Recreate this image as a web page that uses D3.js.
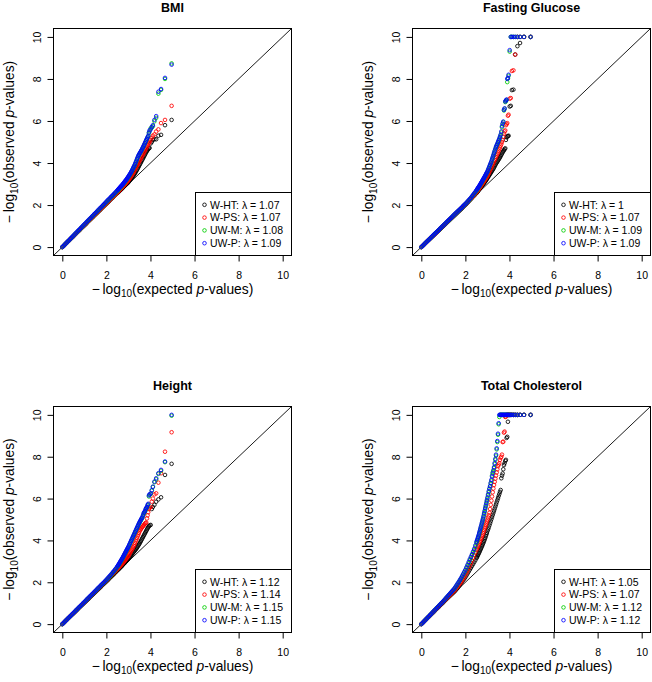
<!DOCTYPE html>
<html><head><meta charset="utf-8">
<script src="https://cdn.jsdelivr.net/npm/d3@7/dist/d3.min.js"></script>
<style>body{margin:0;background:#fff}svg{display:block}text{white-space:pre}</style>
</head><body>
<svg id="chart" width="652" height="682"></svg>
<script>
// ---------- data ----------
const panelTitles = ["BMI", "Fasting Glucose", "Height", "Total Cholesterol"];
const seriesNames = ["W-HT", "W-PS", "UW-M", "UW-P"];
const seriesColors = ["#000000", "#FF0000", "#00CD00", "#0000FF"];
const lambdaBMI = ["1.07", "1.07", "1.08", "1.09"];
const lambdaFG = ["1", "1.07", "1.09", "1.09"];
const lambdaHeight = ["1.12", "1.14", "1.15", "1.15"];
const lambdaTC = ["1.05", "1.07", "1.12", "1.12"];
const axisTicks = [0, 2, 4, 6, 8, 10];

// expected -log10(p) (shared by all series)
const expected = [0,0.05,0.1,0.15,0.2,0.25,0.3,0.35,0.4,0.45,0.5,0.55,0.6,0.65,0.7,0.75,0.8,0.85,0.9,0.95,1,1.05,1.1,1.15,1.2,1.25,1.3,1.35,1.4,1.45,1.5,
1.55,1.6,1.65,1.7,1.75,1.8,1.85,1.9,1.95,2,2.05,2.1,2.15,2.2,2.25,2.3,2.35,2.4,2.45,2.5,
2.525,2.55,2.575,2.6,2.625,2.65,2.675,2.7,2.725,2.75,2.775,2.8,2.825,2.85,2.875,2.9,2.925,2.95,2.975,3,
3.03,3.06,3.09,3.12,3.15,3.18,3.21,3.24,3.27,3.3,3.33,3.36,3.39,3.42,3.45,3.48,3.51,3.54,3.57,3.6,3.63,3.66,3.69,3.72,3.75,3.78,3.81,3.84,3.87,3.9,3.93,
3.96,4.01,4.06,4.11,4.18,4.26,4.36,4.48,4.66,4.96];

// observed -log10(p)
const bmiWHT = [0,0.05,0.1,0.15,0.2,0.26,0.31,0.36,0.41,0.46,0.51,0.57,0.62,0.67,0.72,0.77,0.82,0.88,0.93,0.98,1.03,1.08,1.13,1.19,1.24,1.29,1.34,1.39,1.44,1.5,1.55,
1.6,1.65,1.7,1.75,1.8,1.86,1.91,1.96,2.01,2.06,2.11,2.16,2.22,2.27,2.32,2.37,2.43,2.48,2.53,2.58,
2.6,2.63,2.65,2.68,2.7,2.73,2.75,2.78,2.8,2.83,2.86,2.89,2.91,2.94,2.96,2.99,3.01,3.04,3.06,3.09,
3.13,3.17,3.21,3.25,3.29,3.33,3.37,3.42,3.47,3.52,3.57,3.63,3.68,3.74,3.8,3.86,3.92,3.98,4.04,4.1,4.16,4.22,4.28,4.34,4.4,4.46,4.52,4.57,4.62,4.66,4.7,
4.72,4.93,5.0,5.1,5.13,5.13,5.3,5.34,5.8,6.05];
const bmiWPS = [0,0.05,0.1,0.16,0.21,0.26,0.31,0.37,0.42,0.47,0.52,0.57,0.62,0.68,0.73,0.78,0.83,0.89,0.94,0.99,1.04,1.09,1.14,1.2,1.25,1.3,1.35,1.41,1.46,1.51,1.56,
1.61,1.66,1.72,1.77,1.82,1.87,1.92,1.98,2.03,2.08,2.13,2.18,2.24,2.29,2.34,2.39,2.45,2.5,2.55,2.6,
2.63,2.66,2.68,2.71,2.74,2.77,2.8,2.82,2.85,2.88,2.91,2.94,2.97,3.0,3.03,3.06,3.09,3.12,3.15,3.18,
3.23,3.27,3.32,3.37,3.42,3.47,3.52,3.58,3.64,3.7,3.76,3.82,3.88,3.94,4.0,4.06,4.12,4.18,4.24,4.3,4.36,4.42,4.48,4.54,4.6,4.66,4.72,4.78,4.84,4.9,4.95,
5.0,5.1,5.2,5.3,5.36,5.5,5.6,5.9,6.05,6.72];
const bmiUWM = [0,0.05,0.11,0.16,0.21,0.27,0.32,0.37,0.43,0.48,0.53,0.59,0.64,0.69,0.75,0.8,0.85,0.91,0.96,1.01,1.07,1.12,1.17,1.23,1.28,1.33,1.39,1.44,1.49,1.55,1.6,
1.65,1.71,1.76,1.81,1.87,1.92,1.97,2.03,2.08,2.13,2.19,2.24,2.29,2.35,2.4,2.45,2.51,2.56,2.62,2.67,
2.7,2.73,2.76,2.79,2.82,2.85,2.88,2.91,2.94,2.97,3.0,3.04,3.07,3.11,3.14,3.18,3.21,3.25,3.29,3.33,
3.38,3.43,3.48,3.54,3.6,3.66,3.72,3.79,3.85,3.92,4.0,4.08,4.16,4.24,4.32,4.38,4.44,4.49,4.55,4.6,4.66,4.72,4.79,4.86,4.93,5.0,5.07,5.14,5.21,5.28,5.42,
5.5,5.65,5.68,5.75,5.98,6.15,7.3,7.48,8.0,8.74];
const bmiUWP = [0,0.05,0.11,0.16,0.22,0.27,0.32,0.38,0.43,0.49,0.54,0.59,0.65,0.7,0.76,0.81,0.86,0.92,0.97,1.03,1.08,1.13,1.19,1.24,1.3,1.35,1.4,1.46,1.51,1.57,1.62,
1.67,1.73,1.78,1.84,1.89,1.94,2.0,2.05,2.11,2.16,2.22,2.27,2.32,2.38,2.43,2.48,2.54,2.59,2.65,2.7,
2.73,2.76,2.79,2.82,2.85,2.88,2.91,2.94,2.97,3.0,3.03,3.07,3.1,3.14,3.17,3.2,3.24,3.28,3.32,3.36,
3.41,3.46,3.51,3.57,3.62,3.69,3.75,3.82,3.88,3.95,4.03,4.11,4.19,4.27,4.35,4.4,4.46,4.51,4.57,4.62,4.69,4.75,4.82,4.88,4.95,5.02,5.09,5.16,5.23,5.3,5.45,
5.55,5.6,5.72,5.8,6.05,6.23,7.39,7.52,8.05,8.68];

const fgWHT = [0,0.05,0.1,0.15,0.2,0.25,0.3,0.35,0.4,0.45,0.5,0.55,0.6,0.65,0.7,0.75,0.8,0.85,0.9,0.95,1,1.05,1.1,1.15,1.2,1.25,1.3,1.35,1.4,1.45,1.5,
1.55,1.6,1.65,1.7,1.75,1.8,1.85,1.91,1.96,2.01,2.06,2.12,2.17,2.23,2.28,2.34,2.4,2.45,2.51,2.57,
2.6,2.63,2.67,2.7,2.74,2.77,2.81,2.84,2.88,2.91,2.95,2.98,3.02,3.05,3.09,3.12,3.16,3.2,3.24,3.28,
3.33,3.38,3.43,3.48,3.53,3.58,3.63,3.68,3.73,3.79,3.85,3.91,3.97,4.02,4.07,4.12,4.17,4.22,4.27,4.33,4.39,4.45,4.51,4.56,4.61,4.66,4.7,5.1,5.22,5.26,5.28,
5.3,6.69,6.72,7.47,7.49,9.16,9.56,9.71,10,10];
const fgWPS = [0,0.05,0.1,0.15,0.2,0.26,0.31,0.36,0.41,0.46,0.51,0.56,0.61,0.66,0.71,0.77,0.82,0.87,0.92,0.97,1.02,1.07,1.12,1.17,1.22,1.28,1.33,1.38,1.43,1.48,1.53,
1.58,1.63,1.68,1.73,1.78,1.84,1.89,1.94,1.99,2.04,2.09,2.14,2.2,2.25,2.31,2.36,2.42,2.48,2.54,2.6,
2.64,2.68,2.72,2.75,2.79,2.82,2.86,2.9,2.94,2.98,3.02,3.06,3.1,3.14,3.18,3.22,3.26,3.3,3.34,3.38,
3.45,3.52,3.59,3.66,3.73,3.8,3.87,3.94,4.01,4.08,4.15,4.22,4.29,4.36,4.43,4.5,4.58,4.66,4.74,4.82,4.9,5.0,5.1,5.25,5.4,5.5,5.55,5.8,5.85,5.9,6.25,
6.3,7.06,7.09,8.38,8.41,9.16,10,10,10,10];
const fgUWM = [0,0.05,0.1,0.15,0.21,0.26,0.31,0.36,0.41,0.46,0.51,0.57,0.62,0.67,0.72,0.77,0.82,0.87,0.92,0.98,1.03,1.08,1.13,1.18,1.23,1.28,1.33,1.39,1.44,1.49,1.54,
1.59,1.64,1.69,1.74,1.79,1.84,1.89,1.95,2.0,2.05,2.1,2.16,2.21,2.27,2.33,2.4,2.47,2.53,2.6,2.67,
2.71,2.75,2.79,2.83,2.87,2.91,2.96,3.0,3.05,3.09,3.14,3.18,3.23,3.27,3.32,3.37,3.42,3.47,3.52,3.57,
3.65,3.73,3.81,3.89,3.97,4.05,4.15,4.25,4.35,4.45,4.55,4.65,4.74,4.82,4.9,4.97,5.05,5.13,5.22,5.32,5.45,5.7,5.85,5.95,6.5,6.58,6.9,6.95,7.0,7.85,8.02,
8.15,9.3,10,10,10,10,10,10,10,10];
const fgUWP = [0,0.05,0.1,0.16,0.21,0.26,0.31,0.36,0.41,0.47,0.52,0.57,0.62,0.67,0.72,0.77,0.82,0.88,0.93,0.98,1.03,1.08,1.13,1.19,1.24,1.29,1.34,1.39,1.44,1.5,1.55,
1.6,1.65,1.7,1.75,1.8,1.85,1.9,1.96,2.01,2.06,2.11,2.17,2.23,2.29,2.35,2.42,2.49,2.56,2.63,2.7,
2.74,2.78,2.82,2.86,2.9,2.94,2.99,3.03,3.08,3.12,3.17,3.21,3.26,3.3,3.35,3.4,3.45,3.5,3.55,3.6,
3.68,3.76,3.84,3.92,4.0,4.08,4.18,4.28,4.38,4.48,4.58,4.68,4.77,4.85,4.92,5.0,5.08,5.16,5.25,5.35,5.5,5.75,5.88,5.97,6.53,6.6,6.93,6.98,7.02,8.0,8.05,
8.2,9.37,10,10,10,10,10,10,10,10];

const htWHT = [0,0.05,0.1,0.15,0.2,0.26,0.31,0.36,0.41,0.46,0.51,0.56,0.61,0.66,0.71,0.77,0.82,0.87,0.92,0.97,1.02,1.07,1.12,1.17,1.22,1.28,1.33,1.38,1.43,1.48,1.53,
1.58,1.63,1.68,1.73,1.78,1.84,1.89,1.94,1.99,2.04,2.09,2.14,2.2,2.25,2.3,2.35,2.4,2.46,2.51,2.57,
2.6,2.62,2.65,2.67,2.7,2.73,2.75,2.78,2.81,2.84,2.87,2.9,2.92,2.95,2.98,3.01,3.04,3.07,3.1,3.13,
3.17,3.21,3.25,3.29,3.33,3.37,3.41,3.45,3.49,3.53,3.57,3.61,3.66,3.71,3.76,3.81,3.86,3.92,3.98,4.04,4.1,4.16,4.22,4.28,4.34,4.4,4.46,4.52,4.58,4.63,4.68,
4.72,4.74,5.5,5.6,5.7,5.85,5.96,6.06,7.13,7.66];
const htWPS = [0,0.05,0.1,0.16,0.21,0.26,0.31,0.37,0.42,0.47,0.52,0.57,0.62,0.68,0.73,0.78,0.83,0.89,0.94,0.99,1.04,1.09,1.14,1.2,1.25,1.3,1.35,1.41,1.46,1.51,1.56,
1.61,1.66,1.72,1.77,1.82,1.87,1.93,1.98,2.03,2.08,2.14,2.19,2.25,2.3,2.36,2.41,2.47,2.52,2.58,2.63,
2.66,2.69,2.72,2.75,2.78,2.81,2.84,2.87,2.9,2.93,2.96,2.99,3.02,3.06,3.09,3.13,3.16,3.2,3.23,3.27,
3.33,3.38,3.44,3.5,3.55,3.61,3.67,3.73,3.8,3.88,3.96,4.04,4.12,4.2,4.28,4.36,4.44,4.5,4.55,4.6,4.64,4.68,4.72,4.76,4.8,4.83,4.86,5.05,5.2,5.35,5.5,
5.55,5.6,5.85,6.0,6.2,6.25,6.76,7.21,8.24,9.17];
const htUWM = [0,0.05,0.1,0.16,0.21,0.26,0.31,0.37,0.42,0.47,0.52,0.58,0.63,0.68,0.73,0.79,0.84,0.89,0.94,1.0,1.05,1.1,1.15,1.21,1.26,1.31,1.36,1.42,1.47,1.52,1.57,
1.62,1.68,1.73,1.78,1.84,1.89,1.94,1.99,2.05,2.1,2.16,2.21,2.27,2.33,2.39,2.46,2.52,2.59,2.66,2.73,
2.77,2.81,2.85,2.9,2.94,2.99,3.03,3.08,3.12,3.17,3.22,3.27,3.32,3.37,3.42,3.47,3.52,3.57,3.62,3.67,
3.74,3.81,3.88,3.95,4.02,4.09,4.16,4.23,4.3,4.37,4.44,4.51,4.58,4.65,4.72,4.79,4.85,4.91,4.97,5.02,5.08,5.17,5.26,5.32,5.38,5.46,5.52,5.58,5.66,5.72,6.1,
6.18,6.22,6.38,6.55,6.78,6.92,7.18,7.33,7.74,9.96];
const htUWP = [0,0.05,0.11,0.16,0.21,0.27,0.32,0.37,0.42,0.48,0.53,0.58,0.64,0.69,0.74,0.8,0.85,0.9,0.95,1.01,1.06,1.11,1.17,1.22,1.27,1.33,1.38,1.43,1.48,1.54,1.59,
1.64,1.7,1.75,1.8,1.86,1.91,1.96,2.01,2.07,2.12,2.18,2.24,2.3,2.36,2.42,2.49,2.55,2.62,2.69,2.76,
2.8,2.84,2.88,2.93,2.97,3.02,3.06,3.11,3.15,3.2,3.25,3.3,3.35,3.4,3.45,3.5,3.55,3.6,3.65,3.7,
3.77,3.84,3.91,3.98,4.05,4.12,4.19,4.26,4.33,4.4,4.47,4.54,4.61,4.68,4.75,4.82,4.88,4.94,5.0,5.06,5.1,5.2,5.3,5.35,5.4,5.5,5.55,5.6,5.7,5.75,6.15,
6.2,6.25,6.4,6.57,6.81,6.97,7.21,7.37,7.77,10.0];

const tcWHT = [0,0.05,0.1,0.15,0.2,0.26,0.31,0.36,0.41,0.47,0.52,0.57,0.62,0.68,0.73,0.78,0.83,0.89,0.94,0.99,1.04,1.1,1.15,1.2,1.25,1.3,1.35,1.4,1.45,1.5,1.55,
1.61,1.67,1.73,1.8,1.87,1.95,2.02,2.1,2.17,2.25,2.33,2.42,2.51,2.6,2.69,2.78,2.87,2.96,3.05,3.15,
3.2,3.26,3.31,3.37,3.42,3.48,3.54,3.6,3.66,3.72,3.78,3.85,3.91,3.98,4.05,4.12,4.2,4.28,4.36,4.45,
4.53,4.62,4.72,4.82,4.92,5.02,5.12,5.22,5.32,5.42,5.52,5.62,5.72,5.82,5.92,6.02,6.12,6.22,6.32,6.41,6.97,7.1,7.2,7.4,7.6,7.69,7.8,7.85,8.9,8.95,9.67,
10,10,10,10,10,10,10,10,10,10];
const tcWPS = [0,0.05,0.1,0.16,0.21,0.27,0.32,0.37,0.43,0.48,0.53,0.59,0.64,0.7,0.75,0.81,0.86,0.92,0.97,1.03,1.08,1.13,1.18,1.23,1.28,1.33,1.38,1.44,1.49,1.55,1.6,
1.66,1.73,1.8,1.86,1.93,2.0,2.08,2.17,2.26,2.35,2.46,2.57,2.68,2.8,2.92,3.05,3.17,3.3,3.42,3.55,
3.61,3.67,3.73,3.8,3.86,3.93,4.0,4.07,4.13,4.2,4.27,4.34,4.42,4.5,4.58,4.66,4.74,4.82,4.91,5.0,
5.1,5.2,5.32,5.5,5.7,5.9,6.1,6.3,6.48,6.65,6.8,6.95,7.1,7.25,7.4,7.55,7.62,7.69,7.85,7.95,8.0,8.1,8.7,8.72,9.15,9.2,9.9,9.92,10,10,10,
10,10,10,10,10,10,10,10,10,10];
const tcUWM = [0,0.05,0.11,0.16,0.22,0.27,0.33,0.38,0.44,0.49,0.55,0.6,0.66,0.71,0.77,0.82,0.88,0.93,0.99,1.04,1.1,1.15,1.21,1.27,1.33,1.39,1.45,1.51,1.57,1.63,1.69,
1.76,1.84,1.92,2.0,2.09,2.17,2.27,2.37,2.47,2.57,2.68,2.8,2.92,3.05,3.17,3.3,3.42,3.55,3.7,3.86,
3.94,4.02,4.11,4.2,4.3,4.4,4.5,4.6,4.7,4.8,4.9,5.0,5.12,5.25,5.37,5.5,5.62,5.75,5.87,6.0,
6.15,6.3,6.45,6.58,6.72,6.85,7.1,7.25,7.3,7.45,7.65,7.85,8.05,8.35,8.7,9.05,9.55,9.9,10,10,10,10,10,10,10,10,10,10,10,10,10,
10,10,10,10,10,10,10,10,10,10];
const tcUWP = [0,0.05,0.11,0.16,0.22,0.27,0.33,0.38,0.44,0.49,0.55,0.6,0.66,0.71,0.77,0.82,0.88,0.93,0.99,1.04,1.1,1.16,1.22,1.28,1.34,1.4,1.46,1.52,1.58,1.64,1.7,
1.78,1.86,1.94,2.02,2.11,2.2,2.3,2.4,2.5,2.6,2.72,2.84,2.97,3.1,3.22,3.34,3.47,3.6,3.76,3.92,
4.0,4.08,4.16,4.25,4.35,4.45,4.55,4.65,4.75,4.85,4.95,5.05,5.17,5.3,5.42,5.55,5.67,5.8,5.92,6.05,
6.2,6.35,6.48,6.6,6.75,6.9,7.05,7.2,7.35,7.5,7.7,7.9,8.1,8.4,8.75,9.1,9.6,10,10,10,10,10,10,10,10,10,10,10,10,10,10,
10,10,10,10,10,10,10,10,10,10];

// ---------- layout ----------
const FONT = "'Liberation Sans', Arial, Helvetica, sans-serif";
const panels = [
  {title: panelTitles[0], lambdas: lambdaBMI, obs: [bmiWHT, bmiWPS, bmiUWM, bmiUWP], left: 53.5, top: 28.5, w: 238, h: 227},
  {title: panelTitles[1], lambdas: lambdaFG, obs: [fgWHT, fgWPS, fgUWM, fgUWP], left: 412.5, top: 28.5, w: 238, h: 227},
  {title: panelTitles[2], lambdas: lambdaHeight, obs: [htWHT, htWPS, htUWM, htUWP], left: 53.5, top: 406.5, w: 238, h: 226},
  {title: panelTitles[3], lambdas: lambdaTC, obs: [tcWHT, tcWPS, tcUWM, tcUWP], left: 412.5, top: 406.5, w: 238, h: 226}
];
const R = 1.8, SW = 0.85;

const svg = d3.select("#chart");

function axisTitle(sel, word) {
  sel.append("tspan").text("\u2212\u2009log");
  sel.append("tspan").attr("dy", 3.5).attr("font-size", "10px").text("10");
  sel.append("tspan").attr("dy", -3.5).text("(" + word + " ");
  sel.append("tspan").attr("font-style", "italic").text("p");
  sel.append("tspan").text("-values)");
}

panels.forEach((p, pi) => {
  const g = svg.append("g").attr("transform", `translate(${p.left},${p.top})`);
  const x = d3.scaleLinear().domain([-0.4, 10.4]).range([0, p.w]);
  const y = d3.scaleLinear().domain([-0.4, 10.4]).range([p.h, 0]);

  const clipId = "clip" + pi;
  g.append("clipPath").attr("id", clipId).append("rect")
    .attr("x", 0).attr("y", 0).attr("width", p.w).attr("height", p.h);

  const plot = g.append("g").attr("clip-path", `url(#${clipId})`);
  // diagonal y = x
  plot.append("path")
    .attr("d", d3.line().x(d => x(d)).y(d => y(d))([-0.4, 10.4]))
    .attr("stroke", "#000").attr("stroke-width", 0.9).attr("fill", "none");

  // points: W-HT, W-PS, UW-M, UW-P in that order
  p.obs.forEach((obs, si) => {
    const n = Math.min(obs.length, expected.length);
    const pts = d3.range(n).map(i => [expected[i], obs[i]]);
    plot.append("g").selectAll("circle").data(pts).join("circle")
      .attr("cx", d => x(d[0])).attr("cy", d => y(d[1])).attr("r", R)
      .attr("fill", "none").attr("stroke", seriesColors[si]).attr("stroke-width", SW);
  });

  // frame
  g.append("rect").attr("x", 0).attr("y", 0).attr("width", p.w).attr("height", p.h)
    .attr("fill", "none").attr("stroke", "#000").attr("stroke-width", 1);

  // axes
  const ax = g.append("g").attr("transform", `translate(0,${p.h})`)
    .call(d3.axisBottom(x).tickValues(axisTicks).tickSize(6).tickSizeOuter(0));
  ax.select(".domain").remove();
  ax.selectAll("text").attr("dy", null).attr("y", 23)
    .attr("font-family", FONT).attr("font-size", "10.5px").attr("fill", "#000");

  const ay = g.append("g")
    .call(d3.axisLeft(y).tickValues(axisTicks).tickSize(6).tickSizeOuter(0));
  ay.select(".domain").remove();
  ay.selectAll("text").attr("x", null).attr("dy", null)
    .attr("transform", "translate(-13,0) rotate(-90)").attr("text-anchor", "middle")
    .attr("font-family", FONT).attr("font-size", "10.5px").attr("fill", "#000");

  // titles
  g.append("text").attr("x", p.w / 2).attr("y", -16.5).attr("text-anchor", "middle")
    .attr("font-family", FONT).attr("font-size", "12.5px").attr("font-weight", "bold")
    .text(p.title);

  const xt = g.append("text").attr("x", p.w / 2).attr("y", p.h + 38).attr("text-anchor", "middle")
    .attr("font-family", FONT).attr("font-size", "13.8px");
  axisTitle(xt, "expected");

  const yt = g.append("text").attr("transform", `translate(-39.5,${p.h / 2}) rotate(-90)`)
    .attr("text-anchor", "middle").attr("font-family", FONT).attr("font-size", "13.8px");
  axisTitle(yt, "observed");

  // legend (bottom right)
  const lw = 96, lh = 63;
  const lg = g.append("g").attr("transform", `translate(${p.w - lw},${p.h - lh})`);
  lg.append("rect").attr("width", lw).attr("height", lh)
    .attr("fill", "#fff").attr("stroke", "#000").attr("stroke-width", 1);
  seriesNames.forEach((name, si) => {
    const cy = 12.3 + 12.8 * si;
    lg.append("circle").attr("cx", 9).attr("cy", cy).attr("r", R)
      .attr("fill", "none").attr("stroke", seriesColors[si]).attr("stroke-width", SW);
    lg.append("text").attr("x", 14.5).attr("y", cy + 3.8)
      .attr("font-family", FONT).attr("font-size", "10.5px")
      .text(`${name}: \u03bb = ${p.lambdas[si]}`);
  });
});
</script>
</body></html>
